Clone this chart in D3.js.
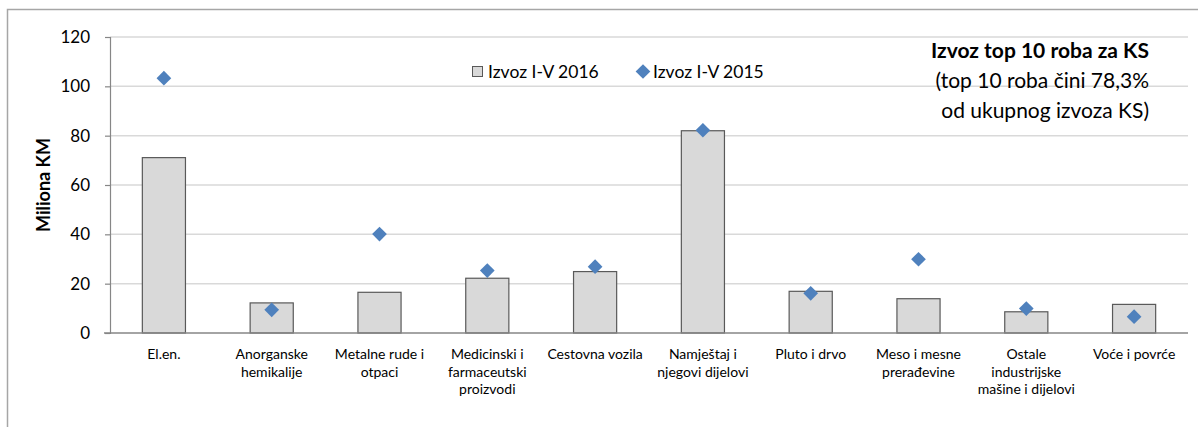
<!DOCTYPE html>
<html>
<head>
<meta charset="utf-8">
<script src="https://cdn.jsdelivr.net/npm/d3@7"></script>
<style>
  body { margin: 0; background: #fff; }
  text { font-family: Lato, "Open Sans", sans-serif; fill: #000; }
</style>
</head>
<body>
<svg id="chart" width="1198" height="427"></svg>
<script>
// Data =============================================================
var categories = [
	"El.en.",
	"Anorganske|hemikalije",
	"Metalne rude i|otpaci",
	"Medicinski i|farmaceutski|proizvodi",
	"Cestovna vozila",
	"Namještaj i|njegovi dijelovi",
	"Pluto i drvo",
	"Meso i mesne|prerađevine",
	"Ostale|industrijske|mašine i dijelovi",
	"Voće i povrće"
];
var izvoz2016 = [71.1, 12.2, 16.5, 22.2, 24.9, 82.0, 16.9, 13.9, 8.6, 11.6];
var izvoz2015 = [103.3, 9.4, 40.1, 25.3, 26.9, 82.2, 16.1, 29.9, 9.9, 6.6];
var yTicks = [0, 20, 40, 60, 80, 100, 120];
var seriesNames = ["Izvoz I-V 2016", "Izvoz I-V 2015"];
var titleLines = ["Izvoz top 10 roba za KS", "(top 10 roba čini 78,3%", "od ukupnog izvoza KS)"];

// Setup =============================================================
var svg = d3.select("#chart");

// outer chart border (right and bottom run off the picture)
svg.append("rect")
	.attr("x", 7.5)
	.attr("y", 9.5)
	.attr("width", 1300)
	.attr("height", 500)
	.attr("fill", "none")
	.attr("stroke", "#a6a6a6")
	.attr("stroke-width", 1.5);

var x = d3.scaleBand()
	.domain(categories)
	.range([110, 1188])
	.paddingInner(0.6)
	.paddingOuter(0.3);

var y = d3.scaleLinear()
	.domain([0, 120])
	.range([333, 37]);

// gridlines
svg.append("g")
	.selectAll("line")
	.data(yTicks.filter(function (t) { return t > 0; }))
	.enter().append("line")
	.attr("x1", 110)
	.attr("x2", 1188)
	.attr("y1", function (d) { return y(d); })
	.attr("y2", function (d) { return y(d); })
	.attr("stroke", "#d9d9d9")
	.attr("stroke-width", 1.5);

// y axis
var yAxis = svg.append("g")
	.attr("transform", "translate(110,0)")
	.call(d3.axisLeft(y).tickValues(yTicks).tickSize(5).tickPadding(15));
yAxis.select(".domain").attr("stroke", "#868686").attr("stroke-width", 1.2);
yAxis.selectAll(".tick line").attr("stroke", "#868686").attr("stroke-width", 1.2);
yAxis.selectAll(".tick text")
	.style("font-family", "Lato, 'Open Sans', sans-serif")
	.style("font-size", "17px")
	.attr("fill", "#000");

svg.append("text")
	.attr("transform", "translate(50,185) rotate(-90)")
	.attr("text-anchor", "middle")
	.style("font-size", "18px")
	.style("font-weight", "bold")
	.text("Miliona KM");

// bars
svg.append("g")
	.selectAll("rect")
	.data(izvoz2016)
	.enter().append("rect")
	.attr("x", function (d, i) { return x(categories[i]); })
	.attr("y", function (d) { return y(d); })
	.attr("width", x.bandwidth())
	.attr("height", function (d) { return y(0) - y(d); })
	.attr("fill", "#d9d9d9")
	.attr("stroke", "#595959")
	.attr("stroke-width", 1.2);

// x axis line
svg.append("line")
	.attr("x1", 104)
	.attr("x2", 1188)
	.attr("y1", y(0))
	.attr("y2", y(0))
	.attr("stroke", "#868686")
	.attr("stroke-width", 1.5);

// diamonds
var diamond = d3.symbol().type(d3.symbolSquare).size(108);
svg.append("g")
	.selectAll("path")
	.data(izvoz2015)
	.enter().append("path")
	.attr("d", diamond)
	.attr("transform", function (d, i) {
		return "translate(" + (x(categories[i]) + x.bandwidth() / 2) + "," + y(d) + ") rotate(45)";
	})
	.attr("fill", "#4f81bd");

// category labels
var labels = svg.append("g")
	.selectAll("text")
	.data(categories)
	.enter().append("text")
	.attr("x", function (d) { return x(d) + x.bandwidth() / 2; })
	.attr("y", 359)
	.attr("text-anchor", "middle")
	.style("font-size", "14px");

labels.each(function (d) {
	var t = d3.select(this);
	d.split("|").forEach(function (line, i) {
		t.append("tspan")
			.attr("x", x(d) + x.bandwidth() / 2)
			.attr("dy", i === 0 ? 0 : 17.5)
			.text(line);
	});
});

// legend
var legend = svg.append("g");
legend.append("rect")
	.attr("x", 472.5)
	.attr("y", 66.5)
	.attr("width", 10)
	.attr("height", 10)
	.attr("fill", "#d9d9d9")
	.attr("stroke", "#595959")
	.attr("stroke-width", 1);
legend.append("text")
	.attr("x", 488)
	.attr("y", 78)
	.style("font-size", "17.5px")
	.text(seriesNames[0]);
legend.append("path")
	.attr("d", diamond)
	.attr("transform", "translate(643,71.5) rotate(45)")
	.attr("fill", "#4f81bd");
legend.append("text")
	.attr("x", 653)
	.attr("y", 78)
	.style("font-size", "17.5px")
	.text(seriesNames[1]);

// title box
var title = svg.append("g");
titleLines.forEach(function (line, i) {
	title.append("text")
		.attr("x", 1149)
		.attr("y", 57.5 + i * 30)
		.attr("text-anchor", "end")
		.style("font-size", "21px")
		.style("font-weight", i === 0 ? "bold" : "normal")
		.text(line);
});
</script>
</body>
</html>
